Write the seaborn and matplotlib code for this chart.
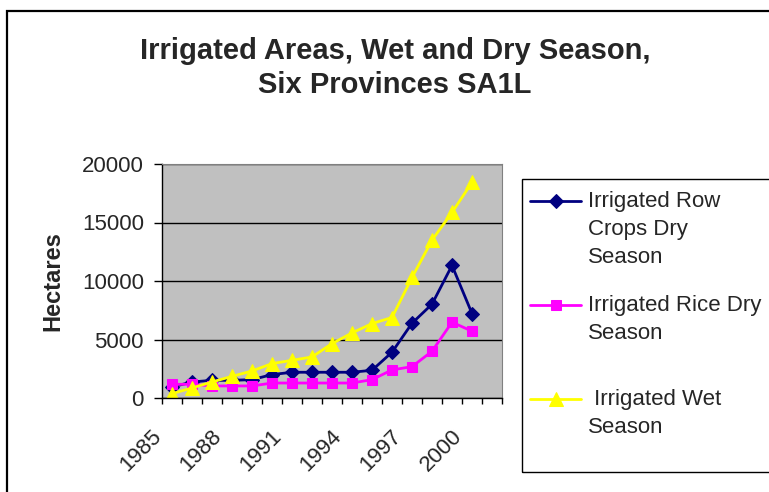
import pandas as pd
import numpy as np
import matplotlib
matplotlib.use("Agg")
import matplotlib.pyplot as plt
import matplotlib.transforms as mtransforms
import seaborn as sns
from matplotlib.lines import Line2D
from matplotlib.patches import Rectangle

# data (hectares)
years = list(range(1985, 2001))
row_crops_dry = [940, 1370, 1510, 1510, 1570, 2000, 2200, 2200, 2200, 2200,
                 2370, 3910, 6390, 8020, 11330, 7220]
rice_dry = [1170, 1170, 1030, 1030, 1030, 1280, 1280, 1280, 1280, 1280,
            1570, 2400, 2680, 3990, 6480, 5710]
wet_season = [370, 860, 1370, 1850, 2310, 2940, 3220, 3510, 4650, 5560,
              6360, 6880, 10300, 13490, 15860, 18430]
tick_years = [1985, 1988, 1991, 1994, 1997, 2000]

sns.set_style("white")
plt.rcParams['font.family'] = ['Liberation Sans', 'DejaVu Sans']

W, H = 769, 492
fig = plt.figure(figsize=(W / 100, H / 100), dpi=100)
ax = fig.add_axes([162 / W, (H - 398) / H, 340 / W, 234 / H])
ax.set_facecolor('#C0C0C0')

df = pd.DataFrame({'year': years, 'row': row_crops_dry, 'rice': rice_dry, 'wet': wet_season})

# one call per series so each marker gets its own size
sns.lineplot(data=df, x='year', y='row', ax=ax, color='#000080', marker='D',
             markersize=7, markeredgecolor='#000080', linewidth=2)
sns.lineplot(data=df, x='year', y='rice', ax=ax, color='#FF00FF', marker='s',
             markersize=7.5, markeredgecolor='#FF00FF', linewidth=2)
sns.lineplot(data=df, x='year', y='wet', ax=ax, color='#FFFF00', marker='^',
             markersize=10, markeredgecolor='#FFFF00', linewidth=2)

ax.set_xlim(1984.5, 2001.5)
ax.set_ylim(0, 20000)
ax.set_yticks(np.arange(0, 20001, 5000))
ax.yaxis.grid(True, color='black', linewidth=1)
ax.set_axisbelow(True)
ax.tick_params(axis='y', direction='out', length=6, width=1, color='black',
               labelsize=16, pad=7, left=True)

ax.set_xticks(tick_years)
ax.set_xticks(np.arange(1984.5, 2002, 1), minor=True)
ax.tick_params(axis='x', which='major', length=0, labelsize=16, pad=20)
ax.tick_params(axis='x', which='minor', direction='out', length=4.5, width=1,
               color='black', bottom=True)
shift = mtransforms.ScaledTranslation(-6 / 100, 0, fig.dpi_scale_trans)
for lab in ax.get_xticklabels():
    lab.set_rotation(45)
    lab.set_ha('right')
    lab.set_va('top')
    lab.set_transform(lab.get_transform() + shift)

ax.set_xlabel('')
ax.set_ylabel('Hectares', fontsize=17, fontweight='bold')
ax.yaxis.set_label_coords(-0.288, 0.5)

for side in ['top', 'right']:
    ax.spines[side].set_color('#808080')
for side in ['left', 'bottom']:
    ax.spines[side].set_color('black')
    ax.spines[side].set_linewidth(1)

fig.text(395 / W, 1 - 68 / H, 'Irrigated Areas, Wet and Dry Season,\nSix Provinces SA1L',
         ha='center', va='center', fontsize=21, fontweight='bold', linespacing=1.3)

# legend, one row per text line like the original; blank rows set the gaps
lines = ax.get_lines()
blank = Line2D([], [], color='none')
handles = [lines[0], blank, blank, blank, lines[1], blank, blank, lines[2], blank]
labels = ['Irrigated Row', 'Crops Dry', 'Season', ' ', 'Irrigated Rice Dry', 'Season',
          ' ', ' Irrigated Wet', 'Season']
leg = fig.legend(handles, labels, loc='upper left', bbox_to_anchor=(530 / W, 1 - 191 / H),
                 frameon=False, fontsize=16, handlelength=2.3, handletextpad=0.3,
                 handleheight=0.1, labelspacing=0.315, borderpad=0, borderaxespad=0)
leg.get_texts()[3].set_fontsize(2)
leg.get_texts()[6].set_fontsize(24)

fig.patches.append(Rectangle((522 / W, 1 - 472 / H), 0.5, (472 - 179) / H,
                             transform=fig.transFigure, fill=False,
                             edgecolor='black', linewidth=1))
fig.patches.append(Rectangle((7 / W, -0.1), 1.2, 1.1 - 11 / H,
                             transform=fig.transFigure, fill=False,
                             edgecolor='black', linewidth=1.6))

fig.savefig('out.png', dpi=100)
